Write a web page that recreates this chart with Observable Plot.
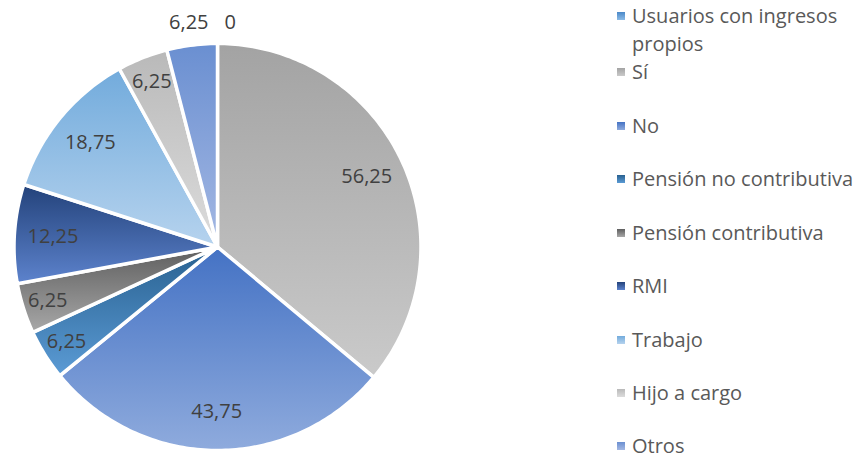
<!DOCTYPE html>
<html>
<head>
<meta charset="utf-8">
<script src="https://cdn.jsdelivr.net/npm/d3@7"></script>
<script src="https://cdn.jsdelivr.net/npm/@observablehq/plot@0.6"></script>
<style>
  html, body { margin: 0; padding: 0; background: #fff; }
  #wrap { position: relative; width: 864px; height: 454px; overflow: hidden; font-family: "Open Sans", sans-serif; }
  #legend { position: absolute; left: 614px; top: 0; width: 250px; }
  .item { position: absolute; left: 0; display: flex; align-items: flex-start; color: #595959; font-size: 20px; line-height: 28px; white-space: normal; }
  .sw { width: 8px; height: 8px; margin: 10px 7px 0 3px; flex: none; }
</style>
</head>
<body>
<div id="wrap"><div id="legend"></div></div>
<script>
// ---- data ----
const categories = ["Usuarios con ingresos propios", "Sí", "No", "Pensión no contributiva", "Pensión contributiva", "RMI", "Trabajo", "Hijo a cargo", "Otros"];
const values = [0, 56.25, 43.75, 6.25, 6.25, 12.25, 18.75, 6.25, 6.25];
const labels = ["0", "56,25", "43,75", "6,25", "6,25", "12,25", "18,75", "6,25", "6,25"];
const colorsTop = ["#4a88c8", "#a3a3a3", "#4472c4", "#28608f", "#5e5e5e", "#23427a", "#72abdc", "#b9b9b9", "#6a8fd1"];
const colorsBottom = ["#8cbbe6", "#cacaca", "#8fabdd", "#5b9bd5", "#a8a8a8", "#5d83cd", "#b6d3ee", "#dcdcdc", "#a4b8e3"];

// ---- layout ----
const W = 864, H = 454;
const cx = 217, cy = 246.5, R = 203.5;

const pie = d3.pie().sort(null).value(d => d)
  .startAngle(0).endAngle(2 * Math.PI)(values);

// slice outlines in unit-circle data space (clockwise from top)
const pts = [];
pie.forEach((p, i) => {
  pts.push({i, x: 0, y: 0});
  const n = Math.max(1, Math.ceil((p.endAngle - p.startAngle) / (Math.PI / 180)));
  for (let k = 0; k <= n; k++) {
    const a = p.startAngle + (p.endAngle - p.startAngle) * k / n;
    pts.push({i, x: Math.sin(a), y: Math.cos(a)});
  }
});

// label anchors
const lab = pie.map((p, i) => {
  const mid = (p.startAngle + p.endAngle) / 2;
  const r = values[i] < 10 ? 0.875 : 0.81;
  return {i, text: labels[i], x: Math.sin(mid) * r, y: Math.cos(mid) * r, anchor: "middle"};
});
// the two top slices are labelled outside the pie, on either side of 12 o'clock
const outTop = 1 + 21 / R;
lab[0] = {i: 0, text: labels[0], x: 7 / R, y: outTop, anchor: "start"};
lab[8] = {i: 8, text: labels[8], x: -9 / R, y: outTop, anchor: "end"};

const plot = Plot.plot({
  width: W, height: H,
  margin: 0,
  x: {domain: [-cx / R, (W - cx) / R], range: [0, W], axis: null},
  y: {domain: [-(H - cy) / R, cy / R], range: [H, 0], axis: null},
  marks: [
    ...categories.map((c, i) => Plot.line(pts.filter(d => d.i === i), {
      x: "x", y: "y", curve: "linear-closed",
      fill: `url(#grad${i})`, stroke: "#fff", strokeWidth: 3.5, strokeLinejoin: "round"
    })),
    Plot.text(lab.filter(d => d.anchor === "middle"), {x: "x", y: "y", text: "text", fill: "#404040", fontSize: 20, textAnchor: "middle"}),
    Plot.text(lab.filter(d => d.anchor === "start"), {x: "x", y: "y", text: "text", fill: "#404040", fontSize: 20, textAnchor: "start"}),
    Plot.text(lab.filter(d => d.anchor === "end"), {x: "x", y: "y", text: "text", fill: "#404040", fontSize: 20, textAnchor: "end"})
  ],
  style: {fontFamily: "'Open Sans', sans-serif", background: "#fff", overflow: "visible"}
});

// gradients
const defs = d3.select(plot).insert("defs", ":first-child");
categories.forEach((c, i) => {
  const g = defs.append("linearGradient").attr("id", `grad${i}`)
    .attr("x1", 0).attr("y1", 0).attr("x2", 0).attr("y2", 1);
  g.append("stop").attr("offset", "0%").attr("stop-color", colorsTop[i]);
  g.append("stop").attr("offset", "100%").attr("stop-color", colorsBottom[i]);
});

const wrap = document.getElementById("wrap");
wrap.insertBefore(plot, wrap.firstChild);

// legend
const legendTops = [2, 58, 112, 165, 219, 272, 326, 379, 432];
const legend = d3.select("#legend");
categories.forEach((c, i) => {
  const it = legend.append("div").attr("class", "item").style("top", legendTops[i] + "px");
  it.append("div").attr("class", "sw")
    .style("background", `linear-gradient(${colorsTop[i]}, ${colorsBottom[i]})`);
  it.append("div").style("width", i === 0 ? "225px" : "240px").text(c);
});
</script>
</body>
</html>
